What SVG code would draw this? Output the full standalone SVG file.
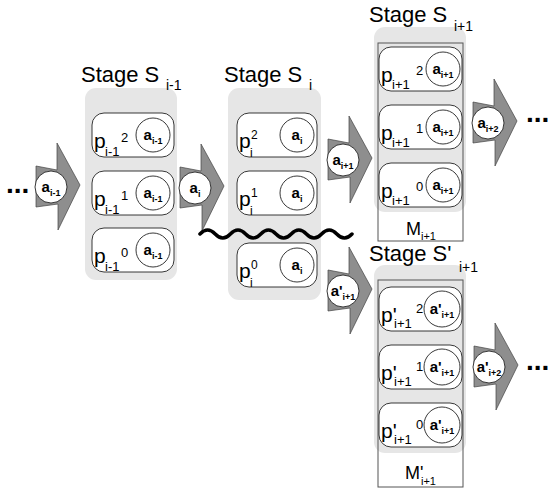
<svg xmlns="http://www.w3.org/2000/svg" width="551" height="488" viewBox="0 0 551 488">
<style>
.stage{fill:#e6e6e6;stroke:none}
.mem{fill:none;stroke:#555;stroke-width:1}
.proc{fill:#fff;stroke:#222;stroke-width:0.9}
.cir{fill:#fff;stroke:#222;stroke-width:0.9}
.arr{fill:#8e8e8e;stroke:#444;stroke-width:0.7}
.t{font-family:"Liberation Sans",Arial,sans-serif;fill:#000}
.title{font-size:22px}
.tsub{font-size:14px}
.p{font-size:21px}
.ps{font-size:13px}
.pss{font-size:12px}
.a{font-size:15px;font-weight:bold}
.as{font-size:9px;font-weight:bold}
.m{font-size:18px}
.ms{font-size:11px}
.dots{font-size:28px;font-weight:bold}
.wave{fill:none;stroke:#000;stroke-width:3.5;stroke-linecap:round}
</style>
<defs>
<polygon id="chev" class="arr" points="-15,-21 6,-17 6,-44 29,-2 7,43 7,17 -15,20"/>
</defs>

<!-- Stage S i-1 -->
<g id="stage-im1">
<rect class="stage" x="85" y="88" width="92" height="192" rx="11"/>
<text class="t title" x="81" y="82">Stage S</text>
<text class="t tsub" x="166" y="90">i-1</text>
<g id="p-im1-2">
<rect class="proc" x="92" y="113" width="82" height="44" rx="12"/>
<text class="t p" x="94" y="148">p</text><text class="t ps" x="105" y="156">i-1</text><text class="t ps" x="121" y="142">2</text>
<circle class="cir" cx="153" cy="135" r="17"/>
<text class="t a" x="153" y="140" text-anchor="middle">a<tspan class="as" dy="4">i-1</tspan></text>
</g>
<g id="p-im1-1">
<rect class="proc" x="92" y="171" width="82" height="44" rx="12"/>
<text class="t p" x="94" y="206">p</text><text class="t ps" x="105" y="214">i-1</text><text class="t ps" x="121" y="200">1</text>
<circle class="cir" cx="153" cy="193" r="17"/>
<text class="t a" x="153" y="198" text-anchor="middle">a<tspan class="as" dy="4">i-1</tspan></text>
</g>
<g id="p-im1-0">
<rect class="proc" x="92" y="228" width="82" height="44" rx="12"/>
<text class="t p" x="94" y="263">p</text><text class="t ps" x="105" y="271">i-1</text><text class="t ps" x="121" y="257">0</text>
<circle class="cir" cx="153" cy="250" r="17"/>
<text class="t a" x="153" y="255" text-anchor="middle">a<tspan class="as" dy="4">i-1</tspan></text>
</g>
</g>

<!-- Stage S i -->
<g id="stage-i">
<rect class="stage" x="228" y="88" width="93" height="212" rx="11"/>
<text class="t title" x="224" y="82">Stage S</text>
<text class="t tsub" x="309" y="90">i</text>
<g id="p-i-2">
<rect class="proc" x="237" y="113" width="80" height="44" rx="12"/>
<text class="t p" x="239" y="148">p</text><text class="t pss" x="250" y="157">i</text><text class="t pss" x="251" y="139">2</text>
<circle class="cir" cx="297" cy="135" r="17"/>
<text class="t a" x="297" y="140" text-anchor="middle">a<tspan class="as" dy="4">i</tspan></text>
</g>
<g id="p-i-1">
<rect class="proc" x="237" y="171" width="80" height="44" rx="12"/>
<text class="t p" x="239" y="206">p</text><text class="t pss" x="250" y="215">i</text><text class="t pss" x="251" y="197">1</text>
<circle class="cir" cx="297" cy="193" r="17"/>
<text class="t a" x="297" y="198" text-anchor="middle">a<tspan class="as" dy="4">i</tspan></text>
</g>
<g id="p-i-0">
<rect class="proc" x="237" y="243" width="80" height="44" rx="12"/>
<text class="t p" x="239" y="278">p</text><text class="t pss" x="250" y="287">i</text><text class="t pss" x="251" y="269">0</text>
<circle class="cir" cx="297" cy="265" r="17"/>
<text class="t a" x="297" y="270" text-anchor="middle">a<tspan class="as" dy="4">i</tspan></text>
</g>
</g>

<!-- Stage S i+1 -->
<g id="stage-ip1">
<rect class="stage" x="374" y="27" width="92" height="185" rx="11"/>
<rect class="mem" x="378" y="43" width="85" height="198"/>
<text class="t title" x="369" y="22">Stage S</text>
<text class="t tsub" x="454" y="31">i+1</text>
<text class="t m" x="406" y="235">M</text><text class="t ms" x="421" y="240">i+1</text>
<g id="p-ip1-2">
<rect class="proc" x="379" y="47" width="83" height="44" rx="12"/>
<text class="t p" x="381" y="82">p</text><text class="t ps" x="392" y="89">i+1</text><text class="t ps" x="416" y="75">2</text>
<circle class="cir" cx="443" cy="69" r="17"/>
<text class="t a" x="443" y="74" text-anchor="middle">a<tspan class="as" dy="4">i+1</tspan></text>
</g>
<g id="p-ip1-1">
<rect class="proc" x="379" y="105" width="83" height="44" rx="12"/>
<text class="t p" x="381" y="140">p</text><text class="t ps" x="392" y="147">i+1</text><text class="t ps" x="416" y="133">1</text>
<circle class="cir" cx="443" cy="127" r="17"/>
<text class="t a" x="443" y="132" text-anchor="middle">a<tspan class="as" dy="4">i+1</tspan></text>
</g>
<g id="p-ip1-0">
<rect class="proc" x="379" y="163" width="83" height="44" rx="12"/>
<text class="t p" x="381" y="198">p</text><text class="t ps" x="392" y="205">i+1</text><text class="t ps" x="416" y="191">0</text>
<circle class="cir" cx="443" cy="185" r="17"/>
<text class="t a" x="443" y="190" text-anchor="middle">a<tspan class="as" dy="4">i+1</tspan></text>
</g>
</g>

<!-- Stage S' i+1 -->
<g id="stage-ip1-prime">
<rect class="stage" x="374" y="265" width="92" height="188" rx="11"/>
<rect class="mem" x="378" y="280" width="85" height="207"/>
<text class="t title" x="369" y="261">Stage S'</text>
<text class="t tsub" x="459" y="272">i+1</text>
<text class="t m" x="405" y="479">M'</text><text class="t ms" x="421" y="485">i+1</text>
<g id="pp-ip1-2">
<rect class="proc" x="379" y="287" width="83" height="44" rx="12"/>
<text class="t p" x="381" y="322">p'</text><text class="t ps" x="394" y="328">i+1</text><text class="t ps" x="416" y="313">2</text>
<circle class="cir" cx="442" cy="309" r="18"/>
<text class="t a" x="442" y="314" text-anchor="middle">a'<tspan class="as" dy="4">i+1</tspan></text>
</g>
<g id="pp-ip1-1">
<rect class="proc" x="379" y="345" width="83" height="44" rx="12"/>
<text class="t p" x="381" y="380">p'</text><text class="t ps" x="394" y="386">i+1</text><text class="t ps" x="416" y="371">1</text>
<circle class="cir" cx="442" cy="367" r="18"/>
<text class="t a" x="442" y="372" text-anchor="middle">a'<tspan class="as" dy="4">i+1</tspan></text>
</g>
<g id="pp-ip1-0">
<rect class="proc" x="379" y="403" width="83" height="44" rx="12"/>
<text class="t p" x="381" y="438">p'</text><text class="t ps" x="394" y="444">i+1</text><text class="t ps" x="416" y="429">0</text>
<circle class="cir" cx="442" cy="425" r="18"/>
<text class="t a" x="442" y="430" text-anchor="middle">a'<tspan class="as" dy="4">i+1</tspan></text>
</g>
</g>

<!-- connectors: arrows carrying values -->
<g id="connectors">
<text class="t dots" x="6" y="193">...</text>
<g id="arr-a-im1">
<use href="#chev" x="51" y="187"/>
<circle class="cir" cx="51" cy="187" r="16"/>
<text class="t a" x="51" y="192" text-anchor="middle">a<tspan class="as" dy="4">i-1</tspan></text>
</g>
<g id="arr-a-i">
<use href="#chev" x="195" y="188"/>
<circle class="cir" cx="195" cy="188" r="16"/>
<text class="t a" x="195" y="193" text-anchor="middle">a<tspan class="as" dy="4">i</tspan></text>
</g>
<g id="arr-a-ip1">
<use href="#chev" x="343" y="160"/>
<circle class="cir" cx="343" cy="160" r="16"/>
<text class="t a" x="343" y="165" text-anchor="middle">a<tspan class="as" dy="4">i+1</tspan></text>
</g>
<g id="arr-ap-ip1">
<use href="#chev" x="343" y="291"/>
<circle class="cir" cx="343" cy="291" r="16"/>
<text class="t a" x="343" y="296" text-anchor="middle">a'<tspan class="as" dy="4">i+1</tspan></text>
</g>
<g id="arr-a-ip2">
<use href="#chev" x="488" y="123"/>
<circle class="cir" cx="488" cy="123" r="16"/>
<text class="t a" x="488" y="128" text-anchor="middle">a<tspan class="as" dy="4">i+2</tspan></text>
</g>
<text class="t dots" x="526" y="122">...</text>
<g id="arr-ap-ip2">
<use href="#chev" x="489" y="367"/>
<circle class="cir" cx="489" cy="367" r="16"/>
<text class="t a" x="489" y="372" text-anchor="middle">a'<tspan class="as" dy="4">i+2</tspan></text>
</g>
<text class="t dots" x="526" y="370">...</text>
<path id="cut" class="wave" d="M200,234 q7.6,-8 15.2,0 t15.2,0 t15.2,0 t15.2,0 t15.2,0 t15.2,0 t15.2,0 t15.2,0 t15.2,0 t15.2,0"/>
</g>
</svg>
